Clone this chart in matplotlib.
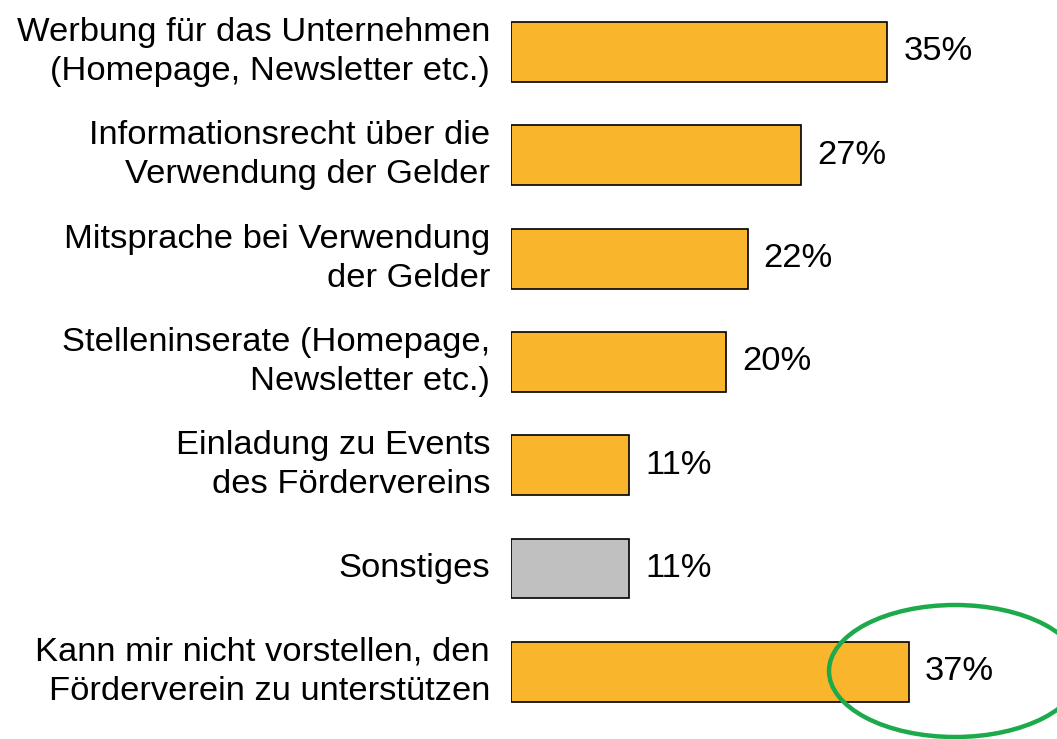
import matplotlib.pyplot as plt
from matplotlib.patches import Ellipse

# Daten
categories = [
    'Werbung für das Unternehmen\n(Homepage, Newsletter etc.)',
    'Informationsrecht über die\nVerwendung der Gelder',
    'Mitsprache bei Verwendung\nder Gelder',
    'Stelleninserate (Homepage,\nNewsletter etc.)',
    'Einladung zu Events\ndes Fördervereins',
    'Sonstiges',
    'Kann mir nicht vorstellen, den\nFörderverein zu unterstützen',
]
values = [35, 27, 22, 20, 11, 11, 37]
colors = ['#F9B52B', '#F9B52B', '#F9B52B', '#F9B52B', '#F9B52B', '#C0C0C0', '#F9B52B']

plt.rcParams['font.family'] = ['Liberation Sans', 'DejaVu Sans']

W, H = 1057, 739
fig = plt.figure(figsize=(W / 100, H / 100), dpi=100)
ax = fig.add_axes([511 / W, 0, 546 / W, 1])

y = list(range(len(values)))
ax.barh(y, values, height=0.58, color=colors, edgecolor='black', linewidth=1.2)

ax.set_xlim(0, 546 / 10.75)
ax.set_ylim(6.65, -0.503)
ax.axis('off')

# Beschriftungen links und Prozentwerte
for i, (cat, val) in enumerate(zip(categories, values)):
    ax.text(-21 / 10.75, i, cat, ha='right', va='center', fontsize=24.8,
            linespacing=1.33, clip_on=False)
    ax.text(val + 16 / 10.75, i, f'{val}%', ha='left', va='center', fontsize=24.8)

# grüne Markierung um den letzten Wert
ell = Ellipse((955 / W, 1 - 671 / H), 252 / W, 132 / H, transform=fig.transFigure,
              fill=False, edgecolor='#1DAA4B', linewidth=3.2)
fig.patches.append(ell)

fig.savefig('out.png', dpi=100)
